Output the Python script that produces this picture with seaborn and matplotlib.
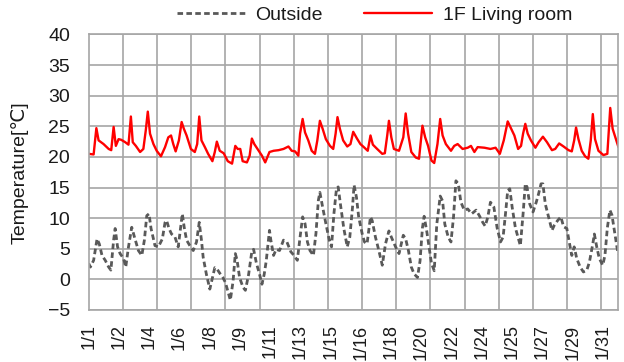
import matplotlib
matplotlib.use("Agg")
import matplotlib.pyplot as plt
import seaborn as sns
import pandas as pd

# ---- data (time in days since 1/1 00:00, temperature in degC) ----
outside_day = [0.0, 0.1, 0.29, 0.49, 0.62, 0.78, 0.97, 1.17, 1.3, 1.46, 1.55, 1.69, 1.84, 2.04, 2.17,
               2.33, 2.52, 2.68, 2.91, 3.11, 3.26, 3.4, 3.53, 3.65, 3.88, 4.08, 4.31, 4.47, 4.56, 4.7,
               4.85, 5.05, 5.24, 5.38, 5.48, 5.59, 5.73, 5.92, 6.12, 6.31, 6.47, 6.6, 6.7, 6.89, 7.09,
               7.22, 7.38, 7.53, 7.67, 7.85, 8.0, 8.19, 8.29, 8.45, 8.58, 8.68, 8.83, 9.03, 9.17, 9.36,
               9.55, 9.65, 9.81, 10.0, 10.14, 10.27, 10.39, 10.58, 10.66, 10.82, 10.97, 11.17, 11.4,
               11.6, 11.83, 12.02, 12.21, 12.37, 12.52, 12.66, 12.8, 12.95, 13.15, 13.3, 13.44, 13.53,
               13.69, 13.88, 14.08, 14.21, 14.35, 14.5, 14.6, 14.74, 14.93, 15.13, 15.28, 15.44, 15.53,
               15.67, 15.8, 16.0, 16.14, 16.29, 16.49, 16.59, 16.78, 16.98, 17.18, 17.37, 17.57, 17.71,
               17.96, 18.16, 18.41, 18.55, 18.71, 18.88, 19.04, 19.24, 19.39, 19.53, 19.63, 19.78,
               19.92, 20.06, 20.22, 20.37, 20.57, 20.71, 20.84, 21.04, 21.2, 21.35, 21.49, 21.63, 21.78,
               21.98, 22.18, 22.41, 22.67, 22.86, 23.06, 23.2, 23.35, 23.51, 23.71, 23.9, 24.1, 24.25,
               24.39, 24.52, 24.64, 24.78, 24.97, 25.17, 25.26, 25.42, 25.55, 25.65, 25.81, 26.0, 26.19,
               26.33, 26.47, 26.58, 26.72, 26.91, 27.11, 27.24, 27.44, 27.63, 27.79, 27.98, 28.14,
               28.27, 28.41, 28.56, 28.76, 28.95, 29.15, 29.3, 29.5, 29.59, 29.73, 29.88, 30.08, 30.21,
               30.35, 30.5, 30.62, 30.8, 30.95, 31.0]
outside_temp = [2.6, 2.0, 3.1, 6.6, 5.8, 3.9, 3.1, 2.0, 1.5, 6.4, 8.3, 5.3, 4.2, 3.4, 2.0,
                5.3, 8.5, 6.9, 4.7, 3.9, 6.4, 10.4, 10.7, 8.3, 5.5, 5.3, 6.6, 9.3, 9.6, 8.3,
                7.4, 6.9, 5.3, 8.5, 10.7, 8.5, 6.4, 5.5, 4.7, 6.1, 9.3, 6.4, 3.6, 0.8, -1.6,
                0.0, 1.9, 1.6, 1.0, 0.3, -0.5, -2.4, -3.4, -0.3, 4.2, 3.2, 0.3, -1.3, -1.8, 0.8,
                4.6, 4.9, 2.7, 0.8, -0.8, 0.8, 3.0, 8.0, 6.4, 3.9, 4.9, 4.7, 6.4,
                6.1, 4.5, 3.9, 3.1, 6.9, 10.2, 9.1, 6.1, 4.7, 3.9, 7.5, 12.9, 14.2,
                11.8, 9.1, 6.4, 5.3, 10.7, 14.8, 15.1, 12.1, 8.3, 5.3, 6.9, 11.8, 15.4,
                13.4, 10.2, 7.5, 6.1, 5.8, 10.2, 9.6, 6.9, 4.7, 2.3, 5.8, 7.9, 6.9,
                5.3, 4.2, 7.2, 6.6, 4.7, 2.0, 0.9, 0.3, 3.0, 8.4, 10.3, 7.9,
                5.3, 2.6, 1.4, 9.0, 13.6, 12.8, 9.0, 6.9, 6.1, 10.2, 16.1, 15.6, 12.6,
                11.3, 11.5, 10.7, 11.3, 10.4, 9.3, 8.7, 10.1, 12.6, 11.8, 8.4, 6.1, 6.9,
                10.7, 14.5, 14.8, 11.8, 8.4, 6.4, 5.5, 10.7, 15.6, 15.1, 12.3, 11.0, 12.6,
                14.0, 15.6, 15.6, 12.3, 10.2, 8.0, 8.8, 9.6, 10.2, 8.6, 8.3, 5.8,
                3.9, 5.3, 3.4, 2.0, 1.2, 1.5, 2.8, 5.8, 7.4, 5.3, 3.4, 2.3, 3.9,
                8.4, 11.3, 10.5, 7.3, 4.6, 4.1]

living_day = [0.0, 0.29, 0.45, 0.58, 0.87, 1.17, 1.32, 1.46, 1.59, 1.75, 1.9, 2.14, 2.33, 2.47, 2.58,
              2.76, 3.01, 3.2, 3.34, 3.46, 3.59, 3.79, 3.98, 4.23, 4.47, 4.66, 4.82, 4.95, 5.09, 5.28,
              5.44, 5.57, 5.73, 5.98, 6.21, 6.35, 6.47, 6.6, 6.8, 6.99, 7.24, 7.38, 7.5, 7.67, 7.9,
              8.14, 8.39, 8.58, 8.72, 8.87, 9.01, 9.26, 9.42, 9.55, 9.69, 9.88, 10.14, 10.33, 10.58,
              10.82, 11.11, 11.4, 11.69, 11.88, 12.08, 12.27, 12.37, 12.52, 12.66, 12.85, 13.05, 13.24,
              13.38, 13.53, 13.69, 13.88, 14.12, 14.31, 14.45, 14.56, 14.7, 14.89, 15.13, 15.32, 15.48,
              15.7, 15.9, 16.1, 16.33, 16.49, 16.63, 16.88, 17.18, 17.33, 17.47, 17.57, 17.71, 17.86,
              18.16, 18.41, 18.55, 18.69, 18.88, 19.14, 19.33, 19.53, 19.69, 19.86, 20.06, 20.22,
              20.41, 20.57, 20.71, 20.9, 21.2, 21.39, 21.59, 21.88, 22.18, 22.37, 22.57, 22.76, 23.16,
              23.51, 23.81, 24.06, 24.29, 24.52, 24.72, 24.91, 25.13, 25.3, 25.42, 25.55, 25.69, 25.88,
              26.14, 26.33, 26.58, 26.82, 27.11, 27.3, 27.53, 27.79, 28.08, 28.27, 28.41, 28.52, 28.66,
              28.85, 29.05, 29.24, 29.38, 29.5, 29.63, 29.83, 30.12, 30.35, 30.45, 30.52, 30.66, 30.85,
              31.0]
living_temp = [20.5, 20.4, 24.7, 22.7, 22.1, 21.3, 21.1, 24.9, 21.8, 22.9, 22.8, 22.4, 22.0, 26.6, 22.4,
               21.8, 20.8, 21.3, 24.3, 27.4, 23.8, 22.1, 21.0, 20.1, 21.6, 23.2, 23.5, 22.1, 20.9, 22.7,
               25.7, 24.6, 23.5, 21.3, 20.8, 22.1, 26.6, 22.7, 21.6, 20.5, 19.3, 20.8, 22.5, 21.0, 20.6,
               19.3, 18.9, 21.8, 21.3, 21.3, 19.3, 19.1, 20.2, 23.0, 22.1, 21.3, 20.2, 19.1, 20.8,
               21.0, 21.1, 21.3, 21.7, 21.0, 20.9, 20.2, 23.8, 26.2, 24.0, 22.7, 21.0, 20.5,
               22.7, 25.9, 24.6, 22.9, 21.8, 21.3, 23.8, 26.5, 24.6, 22.7, 21.7, 22.1, 24.1,
               23.0, 22.1, 21.6, 21.0, 23.5, 22.0, 21.3, 20.5, 20.6, 23.5, 25.9, 23.2, 21.3,
               21.0, 23.2, 27.1, 23.8, 20.8, 19.9, 19.7, 25.1, 23.2, 21.8, 19.4, 19.0,
               22.1, 26.2, 23.5, 22.1, 21.0, 21.8, 22.1, 21.3, 21.5, 21.8, 20.8, 21.6, 21.5,
               21.3, 21.5, 20.5, 22.7, 25.8, 24.6, 23.5, 21.3, 21.8, 23.8, 25.4, 23.8, 22.7,
               21.5, 22.4, 23.3, 22.4, 21.1, 21.3, 22.2, 21.7, 21.1, 20.9, 22.7, 24.8, 22.9,
               21.0, 20.1, 19.7, 22.7, 27.0, 22.9, 21.0, 20.3, 20.5, 24.8, 28.0, 24.6, 22.9,
               21.6]

series_names = ["Outside", "1F Living room"]
x_tick_labels = ["1/1", "1/2", "1/4", "1/6", "1/8", "1/9", "1/11", "1/13", "1/15", "1/16",
                 "1/18", "1/20", "1/22", "1/24", "1/25", "1/27", "1/29", "1/31"]
y_ticks = [-5, 0, 5, 10, 15, 20, 25, 30, 35, 40]

# category-axis layout of the original: one label every 85 half-hour samples, gridlines every 2 days
label_step_days = 85 / 48
label_pos = [i * label_step_days for i in range(len(x_tick_labels))]
grid_pos = list(range(0, 31, 2))

sns.set_theme(style="white")
plt.rcParams['font.family'] = ['Liberation Sans', 'DejaVu Sans']

fig = plt.figure(figsize=(6.24, 3.62), dpi=100)
ax = fig.add_axes([0.1421, 0.1439, 0.849, 0.7608])

df_out = pd.DataFrame({"day": outside_day, "temp": outside_temp})
df_in = pd.DataFrame({"day": living_day, "temp": living_temp})

sns.lineplot(data=df_out, x="day", y="temp", ax=ax, color="#595959", lw=2.0,
             linestyle=(0, (2.0, 1.2)), label=series_names[0], sort=False, estimator=None)
sns.lineplot(data=df_in, x="day", y="temp", ax=ax, color="#FF0000", lw=1.7,
             label=series_names[1], sort=False, estimator=None)

ax.set_xlim(0, 31)
ax.set_ylim(-5, 40)
ax.set_yticks(y_ticks)
ax.set_xticks(label_pos)
ax.set_xticklabels(x_tick_labels, rotation=90, fontsize=13)
ax.set_xticks(grid_pos, minor=True)
for lab in ax.get_yticklabels():
    lab.set_fontsize(14)

gcol = "#a6a6a6"
ax.grid(False)
ax.xaxis.grid(True, which="minor", color=gcol, lw=1.2)
ax.yaxis.grid(True, which="major", color=gcol, lw=1.2)
ax.tick_params(axis="both", which="both", length=0, labelcolor="#1a1a1a")
ax.tick_params(axis="y", pad=13.5)
ax.tick_params(axis="x", pad=10.5)
for s in ax.spines.values():
    s.set_color(gcol)
    s.set_linewidth(1.2)

ax.set_xlabel("")
ax.set_ylabel("Temperature[\u2103]", fontsize=14, color="#1a1a1a")
ax.yaxis.set_label_coords(-0.1126, 0.5)

handles, labels = ax.get_legend_handles_labels()
if ax.get_legend() is not None:
    ax.get_legend().remove()
leg = fig.legend(handles, labels, loc="center", bbox_to_anchor=(0.600, 0.958), ncol=2,
                 frameon=False, fontsize=14, handlelength=3.5, handletextpad=0.55,
                 columnspacing=2.1)
for t in leg.get_texts():
    t.set_color("#1a1a1a")

fig.savefig("out.png", dpi=100)
